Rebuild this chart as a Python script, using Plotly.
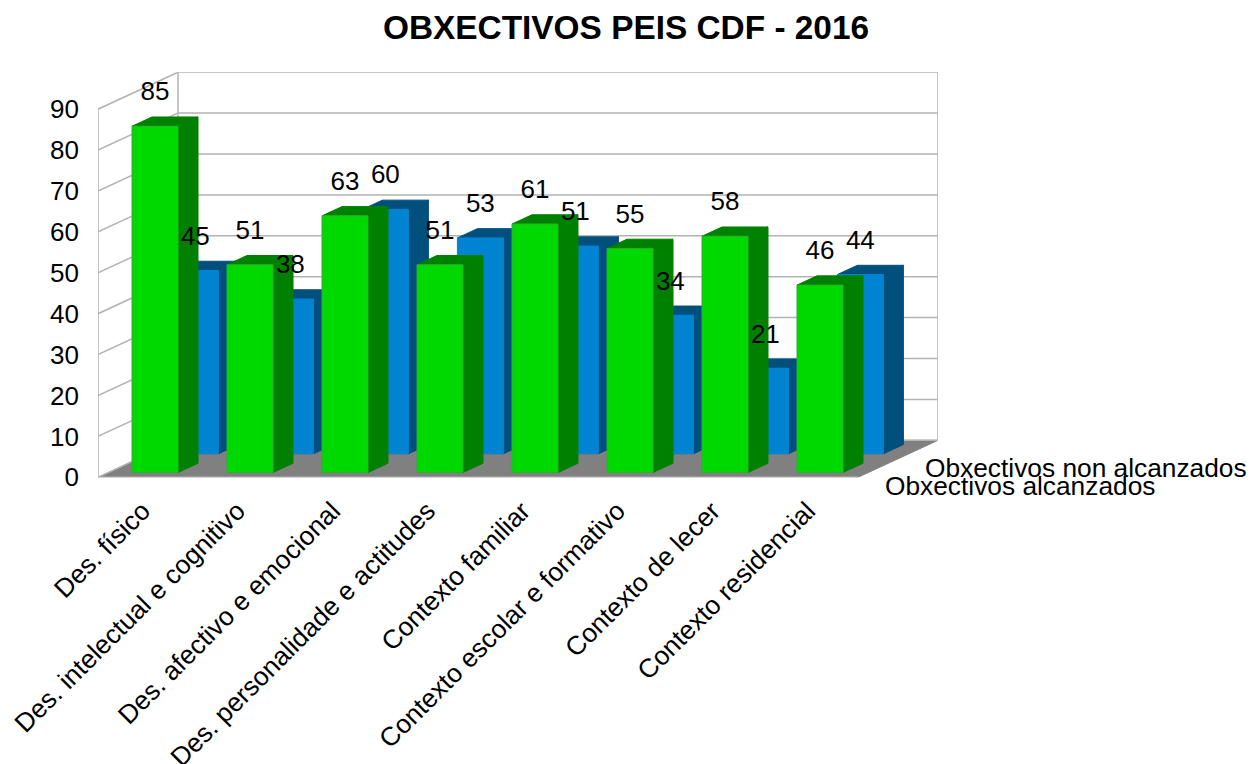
import plotly.graph_objects as go

categories = ["Des. físico", "Des. intelectual e cognitivo", "Des. afectivo e emocional",
              "Des. personalidade e actitudes", "Contexto familiar",
              "Contexto escolar e formativo", "Contexto de lecer", "Contexto residencial"]
achieved = [85, 51, 63, 51, 61, 55, 58, 46]
not_achieved = [45, 38, 60, 53, 51, 34, 21, 44]
series_names = ["Obxectivos alcanzados", "Obxectivos non alcanzados"]
y_ticks = [0, 10, 20, 30, 40, 50, 60, 70, 80, 90]
title = "OBXECTIVOS PEIS CDF - 2016"

FONT = "Liberation Sans"
W, H = 1258, 764
PX_X, PX_Y = 95.0, 4.09          # pixels per category, per value unit
LEFT, BOTTOM = 98.0, 477.3       # pixel position of the front-left floor corner
DX, DY = 80 / PX_X, 37 / PX_Y    # full depth of the box, in axis units
X_MAX, Y_MAX = 8 + DX, 90 + DY
BAR_W = 46.0 / PX_X
BAR_GAP = 23.6 / PX_X
BAR_DEPTH = 0.25
BAR_SCALE = 0.996
GRID = "#b3b3b3"


def proj(x, y, d):
    """Oblique projection of a point at depth d (0 front, 1 back)."""
    return x + d * DX, y + d * DY


def poly(points):
    xs, ys = [], []
    for x, y, d in points:
        px, py = proj(x, y, d)
        xs.append(px)
        ys.append(py)
    xs.append(xs[0])
    ys.append(ys[0])
    return xs, ys


def shape_trace(polys, fill, line=None, width=1):
    xs, ys = [], []
    for p in polys:
        a, b = poly(p)
        xs += a + [None]
        ys += b + [None]
    return go.Scatter(x=xs, y=ys, mode="lines", fill="toself", fillcolor=fill,
                      line=dict(color=line or fill, width=width),
                      hoverinfo="skip", showlegend=False)


def line_trace(points, color=GRID, width=1.5):
    xs, ys = [], []
    for p in points:
        if p is None:
            xs.append(None)
            ys.append(None)
        else:
            a, b = proj(*p)
            xs.append(a)
            ys.append(b)
    return go.Scatter(x=xs, y=ys, mode="lines", line=dict(color=color, width=width),
                      hoverinfo="skip", showlegend=False)


def bars(values, d0, front, dark, edge):
    fronts, sides, tops = [], [], []
    d1 = d0 + BAR_DEPTH
    for i, value in enumerate(values):
        v = value * BAR_SCALE
        x0 = i + BAR_GAP
        x1 = x0 + BAR_W
        fronts.append([(x0, 0, d0), (x1, 0, d0), (x1, v, d0), (x0, v, d0)])
        sides.append([(x1, 0, d0), (x1, 0, d1), (x1, v, d1), (x1, v, d0)])
        tops.append([(x0, v, d0), (x1, v, d0), (x1, v, d1), (x0, v, d1)])
    return [shape_trace(tops, dark), shape_trace(sides, dark),
            shape_trace(fronts, front, edge, 1)]


fig = go.Figure()

# floor
fig.add_trace(shape_trace([[(0, 0, 0), (8, 0, 0), (8, 0, 1), (0, 0, 1)]], "#808080"))

# walls and gridlines
grid = []
for v in y_ticks:
    grid += [(0, v, 0), (0, v, 1), (8, v, 1), None]
grid += [(0, 0, 1), (0, 90, 1), None, (8, 0, 1), (8, 90, 1), None, (0, 0, 0), (0, 90, 0), None]
fig.add_trace(line_trace(grid))
fig.add_trace(line_trace([(0, 0, 0), (8, 0, 0)]))

# bars, back row first
GREEN_D, BLUE_D = 0.13, 0.635
for t in bars(not_achieved, BLUE_D, "#0084d1", "#004f7d", "#0084d1"):
    fig.add_trace(t)
for t in bars(achieved, GREEN_D, "#00d900", "#008000", "#2eae2e"):
    fig.add_trace(t)


def labels(values, d0):
    lx, ly = [], []
    for i, v in enumerate(values):
        px, py = proj(i + 0.49, v, d0)
        lx.append(px)
        ly.append(py + 7.7)
    return go.Scatter(x=lx, y=ly, mode="text", text=[str(v) for v in values],
                      textposition="middle center",
                      textfont=dict(family=FONT, size=26, color="#000000"),
                      hoverinfo="skip", showlegend=False)


fig.add_trace(labels(not_achieved, BLUE_D))
fig.add_trace(labels(achieved, GREEN_D))

annotations = [
    dict(x=886 / W, y=1 - 485.5 / H, text=series_names[0]),
    dict(x=926 / W, y=1 - 467.5 / H, text=series_names[1]),
]
for a in annotations:
    a.update(xref="paper", yref="paper", showarrow=False, xanchor="left", yanchor="middle",
             xshift=-3, font=dict(family=FONT, size=26.3, color="#000000"))

fig.update_layout(
    width=W, height=H, margin=dict(l=0, r=0, t=0, b=0),
    paper_bgcolor="white", plot_bgcolor="white", showlegend=False,
    title=dict(text="<b>%s</b>" % title, x=626 / W, xanchor="center", y=1 - 27 / H,
               yanchor="middle", font=dict(family=FONT, size=33.4, color="#000000")),
    annotations=annotations,
    xaxis=dict(domain=[LEFT / W, (LEFT + X_MAX * PX_X) / W], range=[0, X_MAX],
               tickmode="array", tickvals=[i + 0.5 for i in range(8)], ticktext=categories,
               tickangle=-45, ticks="", showgrid=False, zeroline=False, showline=False,
               ticklabelstandoff=12, ticklabelshift=-3,
               tickfont=dict(family=FONT, size=26.3, color="#000000"), automargin=False),
    yaxis=dict(domain=[1 - (BOTTOM - 0) / H, 1 - (BOTTOM - Y_MAX * PX_Y) / H], range=[0, Y_MAX],
               tickmode="array", tickvals=y_ticks, ticks="", showgrid=False, zeroline=False,
               showline=False, ticklabelstandoff=18,
               tickfont=dict(family=FONT, size=26, color="#000000"), automargin=False),
)

fig.write_html("out.html", config=dict(displayModeBar=False),
               post_script="document.body.style.margin='0';document.documentElement.style.overflow='hidden';")
